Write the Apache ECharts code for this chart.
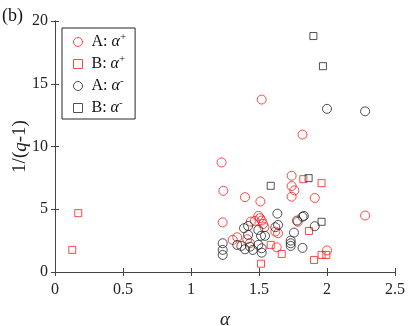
<!DOCTYPE html>
<html><head><meta charset="utf-8">
<script src="https://cdn.jsdelivr.net/npm/echarts@6/dist/echarts.min.js"></script>
<style>html,body{margin:0;padding:0;background:#fff}#c{width:409px;height:326px}</style>
</head><body><div id="c"></div>
<script>
const xTicks = [0, 0.5, 1, 1.5, 2, 2.5];
const yTicks = [0, 5, 10, 15, 20];
const seriesNames = ['A: α+', 'B: α+', 'A: α-', 'B: α-'];
// A: alpha+ (red circles)
const aPlus = [[1.52,13.74],[1.82,10.95],[1.225,8.73],[1.74,7.67],[1.74,6.85],[1.76,6.5],[1.74,6.0],[1.238,6.47],[1.397,5.96],[1.51,5.62],[1.91,5.9],[2.28,4.5],[1.233,3.95],[1.495,4.47],[1.507,4.29],[1.47,4.07],[1.44,4.02],[1.52,4.1],[1.785,4.0],[1.53,3.83],[1.54,3.57],[1.62,3.22],[1.64,3.09],[1.34,2.77],[1.307,2.56],[1.414,2.61],[1.434,2.29],[1.63,1.97],[2.0,1.72]];
// B: alpha+ (red squares)
const bPlus = [[0.171,4.69],[0.127,1.76],[1.826,7.40],[1.96,7.08],[1.868,3.27],[1.905,0.96],[1.96,1.36],[1.995,1.36],[1.586,2.16],[1.667,1.44],[1.515,0.66]];
// A: alpha- (black circles)
const aMinus = [[2.0,13.0],[2.28,12.8],[1.635,4.65],[1.83,4.47],[1.82,4.4],[1.78,4.1],[1.91,3.65],[1.757,3.14],[1.733,2.5],[1.733,2.29],[1.733,2.08],[1.82,1.92],[1.64,3.75],[1.62,3.57],[1.515,2.88],[1.52,1.89],[1.52,1.54],[1.39,3.49],[1.42,3.67],[1.495,3.35],[1.544,2.88],[1.42,2.96],[1.233,2.29],[1.233,1.76],[1.233,1.36],[1.34,2.16],[1.397,1.81],[1.434,2.02],[1.454,1.76],[1.495,2.16],[1.37,2.08]];
// B: alpha- (black squares)
const bMinus = [[1.90,18.8],[1.97,16.4],[1.865,7.48],[1.586,6.87],[1.96,4.0]];

const RED = '#ff1a1a', BLK = '#262626', AX = '#444';
const FONT = "'Liberation Serif', 'Times New Roman', Times, serif";
const chart = echarts.init(document.getElementById('c'), null, {renderer: 'canvas'});

function mk(name, data, symbol, color, size) {
  return {
    name, type: 'scatter', data, symbol, symbolSize: size,
    itemStyle: {color: 'rgba(0,0,0,0)', borderColor: color, borderWidth: 1},
    emphasis: {disabled: true}, z: 3
  };
}
const axisCommon = {
  type: 'value', axisLine: {show: true, lineStyle: {color: AX, width: 1}},
  axisTick: {show: true, inside: true, length: 4, lineStyle: {color: AX}},
  splitLine: {show: false}
};
const legendRich = {
  n: {fontFamily: FONT, fontSize: 16, color: '#111', padding: [0, 0, 0, 4]},
  a: {fontFamily: FONT, fontSize: 16, fontStyle: 'italic', color: '#111'},
  s: {fontFamily: FONT, fontSize: 11, color: '#111', padding: [0, 0, 9, 0]}
};
chart.setOption({
  animation: false,
  backgroundColor: '#fff',
  grid: {left: 55, right: 14, top: 21, bottom: 54, outerBoundsMode: 'none', containLabel: false},
  xAxis: [
    Object.assign({}, axisCommon, {min: 0, max: 2.5, interval: 0.5, position: 'bottom',
      axisLabel: {fontFamily: FONT, fontSize: 16, color: '#222', margin: 10, formatter: v => String(v)},
      name: 'α', nameLocation: 'middle', nameGap: 38,
      nameTextStyle: {fontFamily: FONT, fontSize: 19, fontStyle: 'italic', color: '#222'}}),
    Object.assign({}, axisCommon, {min: 0, max: 2.5, interval: 0.5, position: 'top', axisLabel: {show: false}})
  ],
  yAxis: [
    Object.assign({}, axisCommon, {min: 0, max: 20, interval: 5, position: 'left',
      axisLabel: {fontFamily: FONT, fontSize: 16, color: '#222', margin: 7},
      name: '{r|1/(}{i|q}{r|-1)}', nameLocation: 'middle', nameGap: 25, nameRotate: 90,
      nameMoveOverlap: false,
      nameTextStyle: {rich: {
        r: {fontFamily: FONT, fontSize: 19, color: '#222'},
        i: {fontFamily: FONT, fontSize: 19, fontStyle: 'italic', color: '#222'}}}}),
    Object.assign({}, axisCommon, {min: 0, max: 20, interval: 5, position: 'right', axisLabel: {show: false}})
  ],
  legend: {
    orient: 'vertical', left: 62, top: 28,
    padding: [4, 9, 3, 11],
    borderColor: BLK, borderWidth: 1, backgroundColor: '#fff',
    itemWidth: 9, itemHeight: 9, itemGap: 4,
    data: [
      {name: seriesNames[0], icon: 'circle', itemStyle: {color: 'rgba(0,0,0,0)', borderColor: RED, borderWidth: 1}},
      {name: seriesNames[1], icon: 'rect', itemStyle: {color: 'rgba(0,0,0,0)', borderColor: RED, borderWidth: 1}},
      {name: seriesNames[2], icon: 'circle', itemStyle: {color: 'rgba(0,0,0,0)', borderColor: BLK, borderWidth: 1}},
      {name: seriesNames[3], icon: 'rect', itemStyle: {color: 'rgba(0,0,0,0)', borderColor: BLK, borderWidth: 1}}
    ],
    formatter: function (name) {
      const p = name.split(': ');
      const sign = p[1].slice(1);
      return '{n|' + p[0] + ': }{a|α}{s|' + sign + '}';
    },
    textStyle: {rich: legendRich, lineHeight: 16}
  },
  graphic: [{type: 'text', left: 2, top: 7, style: {text: '(b)', font: "18px 'Liberation Serif', serif", fill: '#111'}}],
  series: [
    mk(seriesNames[0], aPlus, 'circle', RED, 9),
    mk(seriesNames[1], bPlus, 'rect', RED, 7),
    mk(seriesNames[2], aMinus, 'circle', BLK, 9),
    mk(seriesNames[3], bMinus, 'rect', BLK, 7)
  ]
});
</script></body></html>
